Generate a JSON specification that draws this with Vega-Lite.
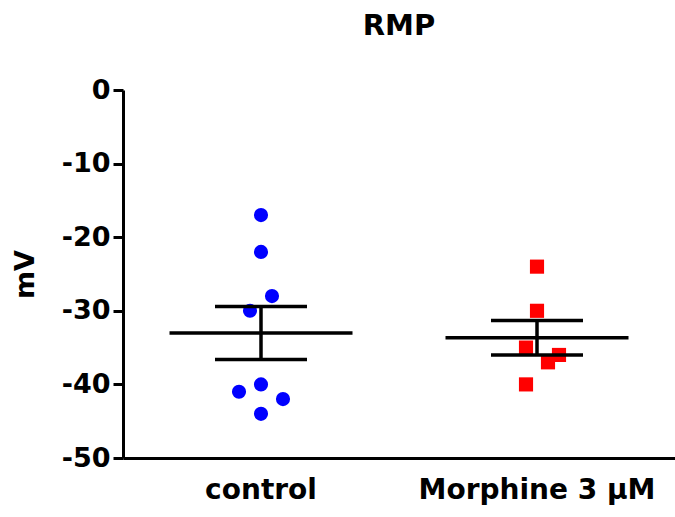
{
  "$schema": "https://vega.github.io/schema/vega-lite/v6.json",
  "autosize": "none",
  "width": 552,
  "height": 368,
  "padding": {"left": 123, "top": 90, "right": 0, "bottom": 59},
  "background": "white",
  "title": {
    "text": "RMP",
    "font": "DejaVu Sans",
    "fontSize": 29,
    "fontWeight": "bold",
    "color": "black",
    "anchor": "middle",
    "offset": 35
  },
  "data": {
    "values": [
      {"group": "control", "mV": -17, "jitter": 0},
      {"group": "control", "mV": -22, "jitter": 0},
      {"group": "control", "mV": -28, "jitter": 1},
      {"group": "control", "mV": -30, "jitter": -1},
      {"group": "control", "mV": -40, "jitter": 0},
      {"group": "control", "mV": -41, "jitter": -2},
      {"group": "control", "mV": -42, "jitter": 2},
      {"group": "control", "mV": -44, "jitter": 0},
      {"group": "Morphine 3 μM", "mV": -24, "jitter": 0},
      {"group": "Morphine 3 μM", "mV": -30, "jitter": 0},
      {"group": "Morphine 3 μM", "mV": -35, "jitter": -1},
      {"group": "Morphine 3 μM", "mV": -36, "jitter": 2},
      {"group": "Morphine 3 μM", "mV": -37, "jitter": 1},
      {"group": "Morphine 3 μM", "mV": -40, "jitter": -1}
    ]
  },
  "encoding": {
    "x": {
      "field": "group",
      "type": "nominal",
      "sort": ["control", "Morphine 3 μM"],
      "scale": {"paddingInner": 0, "paddingOuter": 0},
      "axis": {
        "title": null,
        "ticks": false,
        "labelAngle": 0,
        "labelPadding": 18,
        "labelFontSize": 28,
        "labelLimit": 0
      }
    }
  },
  "layer": [
    {
      "mark": {"type": "point", "filled": true, "opacity": 1, "size": 200},
      "encoding": {
        "xOffset": {
          "field": "jitter",
          "type": "quantitative",
          "scale": {"domain": [-12.55, 12.55]}
        },
        "y": {
          "field": "mV",
          "type": "quantitative",
          "title": "mV",
          "scale": {"domain": [-50, 0]},
          "axis": {
            "values": [0, -10, -20, -30, -40, -50],
            "labelExpr": "datum.value == 0 ? '0' : '-' + abs(datum.value)"
          }
        },
        "color": {
          "field": "group",
          "type": "nominal",
          "scale": {"domain": ["control", "Morphine 3 μM"], "range": ["#0000ff", "#ff0000"]},
          "legend": null
        },
        "shape": {
          "field": "group",
          "type": "nominal",
          "scale": {"domain": ["control", "Morphine 3 μM"], "range": ["circle", "square"]},
          "legend": null
        }
      }
    },
    {
      "mark": {
        "type": "errorbar",
        "extent": "stderr",
        "color": "black",
        "rule": {"strokeWidth": 3.5, "opacity": 1},
        "ticks": {"size": 92, "thickness": 3.5, "color": "black", "opacity": 1}
      },
      "encoding": {
        "y": {"field": "mV", "type": "quantitative", "title": "mV"}
      }
    },
    {
      "mark": {"type": "tick", "color": "black", "size": 183, "thickness": 3.5, "opacity": 1},
      "encoding": {
        "y": {"field": "mV", "aggregate": "mean", "type": "quantitative", "title": "mV"}
      }
    }
  ],
  "config": {
    "view": {"stroke": null},
    "axis": {
      "grid": false,
      "domainColor": "black",
      "domainWidth": 3,
      "tickColor": "black",
      "tickWidth": 3,
      "tickSize": 10,
      "labelFont": "DejaVu Sans",
      "labelFontWeight": "bold",
      "labelFontSize": 27,
      "labelColor": "black",
      "labelPadding": 3,
      "titleFont": "DejaVu Sans",
      "titleFontWeight": "bold",
      "titleFontSize": 27,
      "titleColor": "black",
      "titlePadding": 22
    }
  }
}
